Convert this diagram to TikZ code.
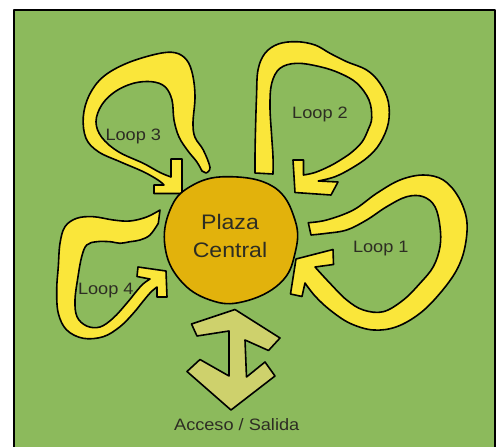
\documentclass[tikz,border=0pt]{standalone}
\usepackage{fontspec}
\newfontfamily\labfont{Liberation Sans}[FakeStretch=1.1]
\definecolor{bg}{RGB}{140,186,92}
\definecolor{bandyellow}{RGB}{250,230,58}
\definecolor{plaza}{RGB}{226,178,12}
\definecolor{access}{RGB}{206,209,108}
\definecolor{txt}{RGB}{45,45,35}
\begin{document}
\begin{tikzpicture}[x=1pt,y=-1pt,line join=round,
  band/.style={draw=black,line width=1.6pt,fill=bandyellow},
  lbl/.style={font=\labfont\fontsize{16.5}{18}\selectfont,text=txt,inner sep=0pt,anchor=base},
  big/.style={font=\labfont\fontsize{21}{24}\selectfont,text=txt,inner sep=0pt,anchor=base}]
\useasboundingbox (0,0) rectangle (496,447);
\fill[white] (0,0) rectangle (496,447);
\fill[bg] (14,10) rectangle (496,447);
\draw[line width=2pt] (14,448) -- (14,10) -- (494.5,10) -- (494.5,448);

% Loop 3
\draw[band] plot[smooth,tension=0.6] coordinates {(206,173) (210,167.5) (203.3,150) (195,137.3) (193,123) (195,97) (192.7,75) (186.7,60) (175,52.7) (156.7,54) (126.7,63.3) (103.3,76.7) (89.3,95) (83.3,116.7) (86,138.3) (98.3,151.7) (120,161.7) (143.3,171.7) (158,180) (164,185)}
  -- (154,185) -- (154,193.5) -- (182,193.5) -- (182,159) -- (171,159) -- (171,177)
  -- plot[smooth,tension=0.6] coordinates {(171,177) (160,172.5) (143.3,163.3) (118.3,151.7) (101.7,137.3) (96,121.7) (101.7,105) (115,91.7) (133.3,83.3) (151.7,81.7) (165,86.7) (172,100) (174,120) (179,137) (188,151) (196.7,161.7) (202,171)} -- cycle;

% Loop 2
\draw[band] plot[smooth,tension=0.6] coordinates {(255,173) (255,156) (255.5,130) (256.5,97) (258,70) (265,53.3) (278.3,44) (296.7,41.7) (315,45) (330,53.3) (346.7,61.7) (366.7,70) (380,83.3) (388.3,101.7) (388.3,123.3) (380,143.3) (368,157) (352,168) (335,176.7) (318.3,181)}
  -- (338,182) -- (331,195) -- (295,192.5) -- (293,160) -- (303.5,160) -- (303.5,175)
  -- plot[smooth,tension=0.6] coordinates {(303.5,175) (315,172.5) (330,166) (342,159) (352,152) (362,142) (368,130) (371.7,118) (369,100) (357,83.3) (340,73.3) (320,66.7) (296.7,63.3) (280,68.3) (271.7,83.3) (270,106.7) (271.7,136.7) (273,156.7) (273,174)} -- cycle;

% Loop 1
\draw[band] plot[smooth,tension=0.6] coordinates {(308.3,222.7) (326.7,220) (353.3,210) (376.7,193.3) (400,180) (423.3,175) (443.3,180) (458.3,196.7) (466.7,220) (465,246.7) (456.7,270) (440,293.3) (420,313.3) (396.7,326.7) (373.3,330) (350,323.3) (330,310) (315,296) (305,283)}
  -- (302,296.5) -- (290.5,294) -- (296,259) -- (333,249.5) -- (333.5,264.5) -- (315,267)
  -- plot[smooth,tension=0.6] coordinates {(315,267) (330,283.3) (346.7,300) (363.3,310) (383.3,311.7) (403.3,300) (420,283.3) (433.3,266.7) (440,246.7) (440,226.7) (435,206.7) (423.3,196.7) (406.7,196.7) (386.7,206.7) (366.7,220) (346.7,230) (326.7,233.3) (311,235)} -- cycle;

% Loop 4
\draw[band] plot[smooth,tension=0.6] coordinates {(160,210) (146.7,217) (130,221) (113.3,220) (93.3,216.7) (76.7,218.3) (65,226.7) (60,243.3) (58.3,266.7) (56.7,290) (58.3,313.3) (66.7,330) (83.3,338.3) (103.3,336.7) (120,326.7) (133.3,313.3) (143.3,301) (151,292) (157,287)}
  -- (157,297) -- (167,297) -- (166,271) -- (138,267) -- (137,276.5) -- (150,279)
  -- plot[smooth,tension=0.6] coordinates {(150,279) (143,284) (136.7,291) (126.7,303.3) (113.3,318) (100,327) (86.7,326) (77,316.7) (75,300) (78,276.7) (81.7,256.7) (86.7,245) (96.7,241.7) (110,241.7) (120,243.3) (130,241.7) (140,240) (150,235) (158.3,223.3)} -- cycle;

% Plaza
\draw[line width=1.6pt,fill=plaza] plot[smooth cycle,tension=0.7] coordinates {(226.7,176.7) (273.3,186.7) (295,220) (295,253.3) (280,283.3) (243.3,301.7) (210,300) (180,280) (165,246.7) (170,210) (190,186.7)};

% Access arrow
\draw[line width=1.6pt,fill=access] (235,309.5) -- (280,338) -- (268.5,350.5) -- (245,340) -- (246.5,377) -- (265,362) -- (275,376) -- (231,410) -- (187,371.5) -- (200,359.5) -- (229,376) -- (229,331) -- (197,336) -- (191.5,324) -- cycle;

\node[big] (plz) at (230,229.5) {Plaza};
\node[big] (ctr) at (230,257.5) {Central};
\node[lbl] (l3) at (133.3,140.5) {Loop 3};
\node[lbl] (l2) at (320,118.3) {Loop 2};
\node[lbl] (l1) at (380.8,252.7) {Loop 1};
\node[lbl] (l4) at (105.8,294) {Loop 4};
\node[lbl] (acc) at (236.7,430) {Acceso / Salida};
\end{tikzpicture}
\end{document}
